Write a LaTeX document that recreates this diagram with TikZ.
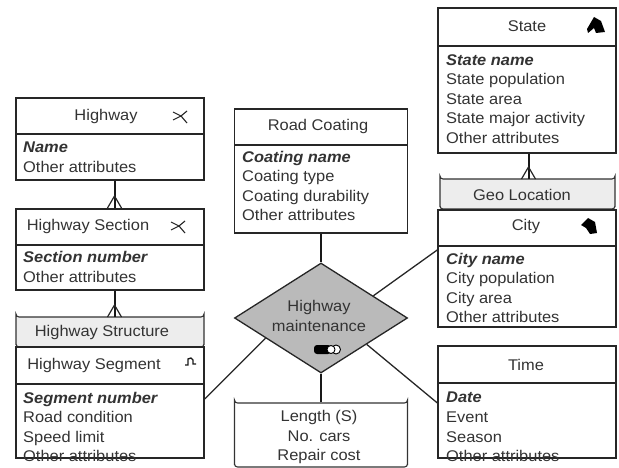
\documentclass[tikz,border=0pt]{standalone}
\usepackage{fontspec}
\setmainfont[FakeStretch=1.06]{Liberation Sans}
\usetikzlibrary{shapes.geometric,shapes.misc}

\tikzset{
  box/.style={draw=black!85,line width=1.6pt,fill=white,inner sep=0pt},
  leftbox/.style={box,minimum width=188,anchor=north},
  midbox/.style={box,minimum width=173,anchor=north},
  rightbox/.style={box,minimum width=178,anchor=north},
  pill/.style={draw=black!80,line width=1.1pt,chamfered rectangle,rounded corners=3pt,
    chamfered rectangle xsep=13pt,chamfered rectangle ysep=11pt,inner sep=0pt},
  lbl/.style={text=black!80,inner sep=0pt,font=\fontsize{15.5}{19.6}\selectfont},
  attrs/.style={lbl,anchor=west,align=left},
  link/.style={draw=black!85,line width=1.3pt},
  strong/.style={draw=black!90,line width=2pt},
  crowfoot/.pic={\draw[black!85,line width=1.2pt] (-7,0) -- (0,-12) -- (7,0);},
  roadicon/.pic={\draw[black!85,line width=1.1pt] (-9,-4) -- (-1,0) -- (-9,4) (-1,0) -- (5,-5) (-1,0) -- (5,7);},
  bendicon/.pic={\draw[black!90,line width=1.3pt] (-6,3) -- (-3,3) -- (-3,-3) -- (0,-4) -- (2,-2) -- (2,2) -- (5,2);},
  stateicon/.pic={\fill[black] (-9,4) -- (-2,-8) -- (5,-4) -- (9,7) -- (0,8) -- (-2,3) -- (-8,8) -- cycle;},
  cityicon/.pic={\fill[black] (-8,-1) -- (-1,-8) -- (6,-4) -- (8,7) -- (1,8) -- (-3,2) -- cycle;},
  timeicon/.pic={\fill[black,rounded corners=3pt] (-14,-4.5) rectangle (3,4.5);
    \draw[black,fill=white,line width=.9pt] (8,0) circle (4.5);
    \draw[black,fill=white,line width=.9pt] (3,0) circle (4);}
}

\begin{document}
\begin{tikzpicture}[x=1pt,y=-1pt]

\useasboundingbox (0,0) rectangle (619,468);

% Relationship in the middle
\node[diamond,aspect=1.57,draw=black!85,line width=1.3pt,fill=black!27,inner sep=0pt,
  minimum width=173,minimum height=110] (maint) at (321,318) {};
\node[lbl,align=center] (maintname) at (319,316) {Highway\\maintenance};
\pic at (328,349.5) {timeicon};

% Pills, they go under the boxes
\node[pill,fill=black!7,minimum width=188,minimum height=30] (structure) at (110,332) {};
\node[lbl] (structurename) at (102,332) {Highway Structure};
\node[pill,fill=black!7,minimum width=175,minimum height=30] (geo) at (527.5,194) {};
\node[lbl] (geoname) at (522,195) {Geo Location};
\node[pill,fill=white,minimum width=173,minimum height=64,
  chamfered rectangle xsep=26pt,chamfered rectangle ysep=19pt] (length) at (321,435) {};
\node[lbl,align=center] (lengthname) at (319,437) {Length (S)\\No. cars\\Repair cost};

% Highway
\node[leftbox,minimum height=36] (highway) at (110,97) {};
\node[leftbox,minimum height=46] (highwaybody) at (110,133) {};
\node[lbl] (highwayname) at (106,116) {Highway};
\node[attrs] (highwayattrs) at (23,157) {\textbf{\textit{Name}}\\Other attributes};
\pic at (182,116) {roadicon};

% Highway Section
\node[leftbox,minimum height=36] (section) at (110,208) {};
\node[leftbox,minimum height=45] (sectionbody) at (110,244) {};
\node[lbl] (sectionname) at (88,226) {Highway Section};
\node[attrs] (sectionattrs) at (23,267) {\textbf{\textit{Section number}}\\Other attributes};
\pic at (180,226) {roadicon};

% Highway Segment
\node[leftbox,minimum height=37] (segment) at (110,346) {};
\node[leftbox,minimum height=74] (segmentbody) at (110,383) {};
\node[lbl] (segmentname) at (94,365) {Highway Segment};
\node[attrs] (segmentattrs) at (23,427) {\textbf{\textit{Segment number}}\\Road condition\\Speed limit\\Other attributes};
\pic at (191,362) {bendicon};

% Road Coating
\node[midbox,minimum height=36] (coating) at (321,108) {};
\node[midbox,minimum height=88] (coatingbody) at (321,144) {};
\node[lbl] (coatingname) at (318,126) {Road Coating};
\node[attrs] (coatingattrs) at (242,186) {\textbf{\textit{Coating name}}\\Coating type\\Coating durability\\Other attributes};

% State
\node[rightbox,minimum height=38] (state) at (527,7) {};
\node[rightbox,minimum height=107] (statebody) at (527,45) {};
\node[lbl] (statename) at (527,26) {State};
\node[attrs] (stateattrs) at (446,99) {\textbf{\textit{State name}}\\State population\\State area\\State major activity\\Other attributes};
\pic at (596,25) {stateicon};

% City
\node[rightbox,minimum height=36] (city) at (527,209) {};
\node[rightbox,minimum height=81] (citybody) at (527,245) {};
\node[lbl] (cityname) at (526,226) {City};
\node[attrs] (cityattrs) at (446,288) {\textbf{\textit{City name}}\\City population\\City area\\Other attributes};
\pic at (589,226) {cityicon};

% Time
\node[rightbox,minimum height=37] (time) at (527,345) {};
\node[rightbox,minimum height=75] (timebody) at (527,382) {};
\node[lbl] (timename) at (526,365) {Time};
\node[attrs] (timeattrs) at (446,427) {\textbf{\textit{Date}}\\Event\\Season\\Other attributes};

% Crow feet
\coordinate (highwayfoot) at (114.5,208);
\coordinate (sectionfoot) at (114.5,317);
\coordinate (statefoot) at (528.5,179);
\draw[strong] (highwaybody.south -| highwayfoot) -- (highwayfoot);
\draw[strong] (sectionbody.south -| sectionfoot) -- (sectionfoot);
\draw[strong] (statebody.south -| statefoot) -- (statefoot);
\pic at (highwayfoot) {crowfoot};
\pic at (sectionfoot) {crowfoot};
\pic at (statefoot) {crowfoot};

% Links to the relationship
\draw[strong] (coatingbody.south) -- (maint.north);
\draw[strong] (maint.south) -- (length.north);
\draw[link] (maint.23) -- (citybody.158);
\draw[link] (maint.-30) -- (timebody.169);
\draw[link] (maint.200) -- (segmentbody.13);

\end{tikzpicture}
\end{document}
